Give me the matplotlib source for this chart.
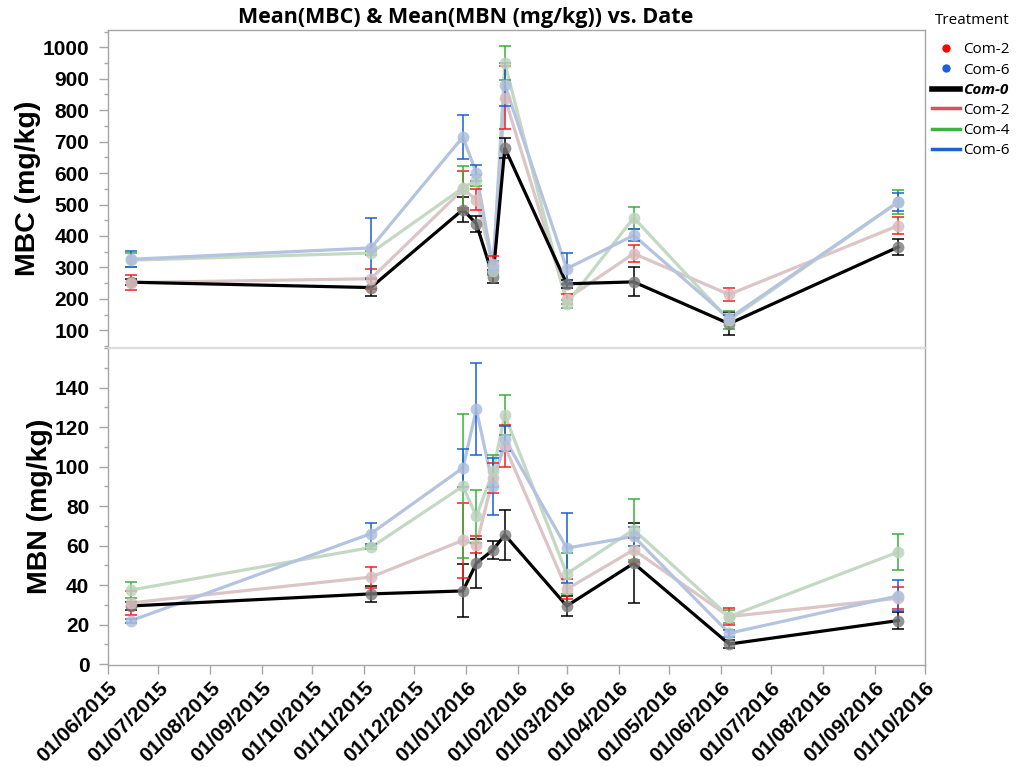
import matplotlib
matplotlib.use("Agg")
import matplotlib.pyplot as plt
import matplotlib.dates as mdates
from matplotlib.lines import Line2D
from matplotlib.ticker import MultipleLocator
import numpy as np

# Sampling dates
dates = np.array(["2015-06-15", "2015-11-05", "2015-12-30", "2016-01-07", "2016-01-17",
                  "2016-01-24", "2016-03-01", "2016-04-10", "2016-06-06", "2016-09-15"],
                 dtype="datetime64[D]")

treatments = ["Com-0", "Com-2", "Com-4", "Com-6"]

# Microbial biomass carbon (mg/kg): means and error half-widths
mbc_com0 = [253, 236, 484, 439, 270, 680, 248, 254, 121, 365]
mbc_com0_err = [10, 28, 40, 25, 21, 32, 12, 46, 36, 26]
mbc_com2 = [252, 264, 548, 516, 310, 840, 200, 344, 214, 433]
mbc_com2_err = [25, 32, 59, 33, 25, 100, 16, 27, 21, 27]
mbc_com4 = [323, 346, 553, 577, 290, 950, 185, 458, 132, 508]
mbc_com4_err = [22, 5, 69, 17, 15, 54, 13, 35, 29, 38]
mbc_com6 = [326, 362, 715, 600, 300, 881, 296, 402, 138, 508]
mbc_com6_err = [26, 95, 70, 25, 22, 69, 50, 19, 10, 30]

# Microbial biomass nitrogen (mg/kg): means and error half-widths
mbn_com0 = [29.4, 35.5, 37.0, 51.0, 57.8, 65.4, 29.4, 51.0, 10.1, 22.0]
mbn_com0_err = [2.0, 4.0, 13.4, 12.4, 4.6, 12.5, 5.0, 20.3, 2.0, 4.2]
mbn_com2 = [31.0, 44.0, 62.6, 60.4, 94.2, 110.3, 37.9, 57.8, 24.0, 33.3]
mbn_com2_err = [6.0, 5.3, 18.9, 4.4, 7.8, 10.7, 5.0, 6.0, 4.4, 5.6]
mbn_com4 = [37.5, 59.0, 90.0, 74.7, 97.6, 126.0, 45.7, 68.0, 24.0, 56.7]
mbn_com4_err = [4.2, 1.0, 36.4, 13.5, 8.0, 10.0, 10.4, 15.4, 3.4, 9.2]
mbn_com6 = [22.0, 66.0, 99.3, 128.9, 90.0, 114.0, 58.7, 64.6, 15.6, 34.5]
mbn_com6_err = [1.0, 5.2, 9.5, 23.3, 14.5, 6.3, 17.6, 5.0, 1.7, 7.9]

mbc = {"Com-0": (mbc_com0, mbc_com0_err), "Com-2": (mbc_com2, mbc_com2_err),
       "Com-4": (mbc_com4, mbc_com4_err), "Com-6": (mbc_com6, mbc_com6_err)}
mbn = {"Com-0": (mbn_com0, mbn_com0_err), "Com-2": (mbn_com2, mbn_com2_err),
       "Com-4": (mbn_com4, mbn_com4_err), "Com-6": (mbn_com6, mbn_com6_err)}

line_col = {"Com-0": "#000000", "Com-2": "#dcc5c7", "Com-4": "#c4d9c3", "Com-6": "#b4c4e0"}
mark_col = {"Com-0": "#7a7a7a", "Com-2": "#d8bec0", "Com-4": "#bed3bd", "Com-6": "#aebfdc"}
err_col = {"Com-0": "#000000", "Com-2": "#ff1a1a", "Com-4": "#3aae3a", "Com-6": "#1a5fd6"}

TICK_FONT = "Liberation Sans"
UI_FONT = "Open Sans"
AX_GRAY = "#a6a6a6"

W, H = 1021, 767
fig = plt.figure(figsize=(W / 100, H / 100), dpi=100)
left, right = 108 / W, 925 / W
ax1 = fig.add_axes([left, 1 - 347 / H, right - left, 317 / H])
ax2 = fig.add_axes([left, 1 - 665 / H, right - left, 317 / H], sharex=ax1)


def draw_panel(ax, data):
    for t in treatments:
        y, e = data[t]
        is_ref = t == "Com-0"
        ax.plot(dates, y, color=line_col[t], lw=2.3, zorder=3 if is_ref else 2,
                solid_joinstyle="miter" if is_ref else "round")
        ax.errorbar(dates, y, yerr=e, fmt="none", ecolor=err_col[t], elinewidth=1.1,
                    capsize=4.2, capthick=1.1, zorder=4)
        ax.plot(dates, y, ls="none", marker="o", ms=8.5, mfc=mark_col[t], mec="none",
                alpha=0.8 if is_ref else 0.85, zorder=5)


draw_panel(ax1, mbc)
draw_panel(ax2, mbn)

ax1.set_ylim(47, 1055)
ax1.set_yticks(np.arange(100, 1001, 100))
ax1.yaxis.set_minor_locator(MultipleLocator(50))

ax2.set_ylim(-0.5, 160)
ax2.set_yticks(np.arange(0, 141, 20))
ax2.yaxis.set_minor_locator(MultipleLocator(10))

ax2.set_xlim(np.datetime64("2015-06-01"), np.datetime64("2016-10-01"))
ax2.xaxis.set_major_locator(mdates.MonthLocator())
ax2.xaxis.set_major_formatter(mdates.DateFormatter("%d/%m/%Y"))

for ax in (ax1, ax2):
    for s in ax.spines.values():
        s.set_color(AX_GRAY)
        s.set_linewidth(1.0)
    ax.tick_params(axis="y", which="major", length=6.5, width=1, color=AX_GRAY, pad=7,
                   labelsize=15)
    ax.tick_params(axis="y", which="minor", length=3, width=1, color=AX_GRAY)
    for lab in ax.get_yticklabels():
        lab.set_fontfamily(TICK_FONT)
        lab.set_fontweight("bold")
ax1.spines["bottom"].set_color("#dddddd")
ax2.spines["top"].set_color("#dddddd")
ax1.tick_params(axis="x", which="both", bottom=False, labelbottom=False)
ax2.tick_params(axis="x", which="major", length=6.5, width=1, color=AX_GRAY, pad=3,
                labelsize=15)
for lab in ax2.get_xticklabels():
    lab.set_fontfamily(TICK_FONT)
    lab.set_fontweight("bold")
    lab.set_rotation(45)
    lab.set_ha("right")
    lab.set_rotation_mode("anchor")

ax1.set_ylabel("MBC (mg/kg)", fontsize=20.5, fontweight="bold", fontfamily=TICK_FONT,
               labelpad=1)
ax2.set_ylabel("MBN (mg/kg)", fontsize=20.5, fontweight="bold", fontfamily=TICK_FONT,
               labelpad=1)
fig.align_ylabels([ax1, ax2])

fig.text(466 / W, 1 - 18 / H, "Mean(MBC) & Mean(MBN (mg/kg)) vs. Date", ha="center",
         va="center", fontsize=15.5, fontweight="bold", fontfamily=UI_FONT)

# Legend: heading drawn as plain text, entries below it
fig.text(935 / W, 1 - 21 / H, "Treatment", ha="left", va="center", fontsize=11,
         fontfamily=UI_FONT)
handles = [
    Line2D([], [], ls="none", marker="o", ms=5, color="#ff0000"),
    Line2D([], [], ls="none", marker="o", ms=5, color="#1a5fe0"),
    Line2D([], [], color="#000000", lw=4),
    Line2D([], [], color="#d9505f", lw=2.5),
    Line2D([], [], color="#3cb43c", lw=2.5),
    Line2D([], [], color="#1f5fd0", lw=2.5),
]
labels = ["Com-2", "Com-6", "Com-0", "Com-2", "Com-4", "Com-6"]
leg = fig.legend(handles, labels, loc="upper left",
                 bbox_to_anchor=(932 / W, 1 - 42 / H), frameon=False,
                 prop={"family": UI_FONT, "size": 11}, handlelength=1.85,
                 handletextpad=0.2, labelspacing=0.36, borderaxespad=0,
                 borderpad=0)
leg.get_texts()[2].set_fontweight("bold")
leg.get_texts()[2].set_fontstyle("italic")

fig.savefig("out.png", dpi=100)
